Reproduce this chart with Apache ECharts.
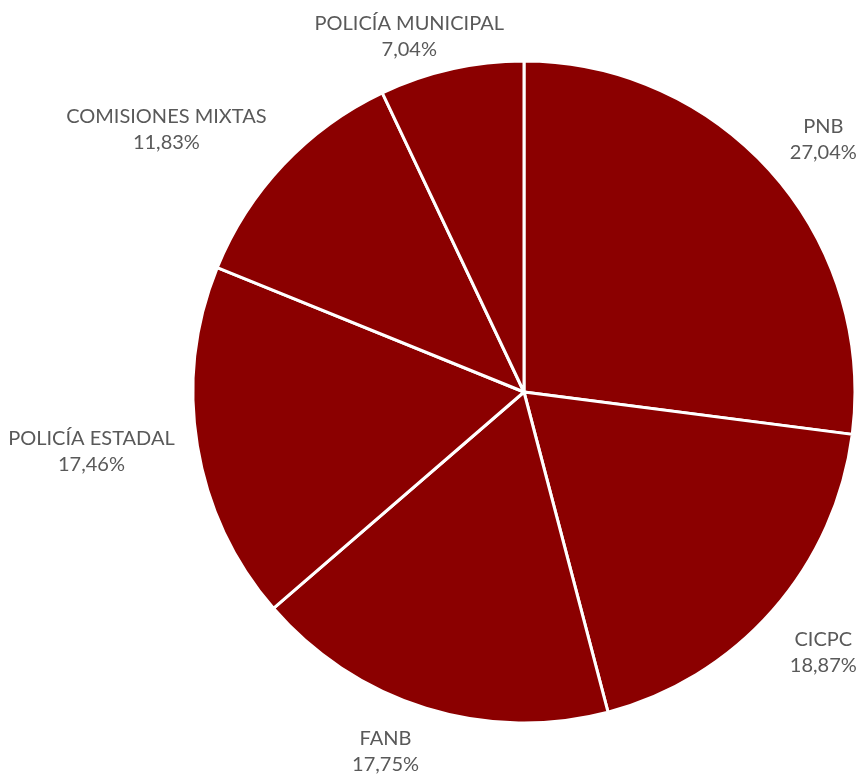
<!DOCTYPE html>
<html><head><meta charset="utf-8">
<script src="https://cdn.jsdelivr.net/npm/echarts@6/dist/echarts.min.js"></script>
<style>html,body{margin:0;padding:0;background:#fff}#c{width:864px;height:778px}</style>
</head><body><div id="c"></div>
<script>
var categories = ['PNB', 'CICPC', 'FANB', 'POLICÍA ESTADAL', 'COMISIONES MIXTAS', 'POLICÍA MUNICIPAL'];
var percentages = [27.04, 18.87, 17.75, 17.46, 11.83, 7.04];

var CX = 524, CY = 392, R = 331, D = 354, MIN_TOP = 11, MAX_BOTTOM = 778;
var total = percentages.reduce(function(a, b){ return a + b; }, 0);
var mids = [];
var acc = 0;
percentages.forEach(function(v){ mids.push((acc + v / 2) / total * 2 * Math.PI); acc += v; });

function placeLabel(i, w, h) {
  var ux = Math.sin(mids[i]), uy = -Math.cos(mids[i]);
  var px = CX + ux * D, py = CY + uy * D;
  var sx = ux >= 0 ? 1 : -1, sy = uy >= 0 ? 1 : -1;
  var x, y;
  if (Math.abs(uy) < Math.sin(15 * Math.PI / 180)) {
    // near horizontal: anchor at middle of the nearest side
    x = px + sx * w / 2; y = py + 2;
  } else {
    // anchor at the nearest corner (bottom corners sit a little lower)
    x = px + sx * w / 2; y = py + sy * h / 2 + (sy < 0 ? 7 : 1);
  }
  if (y - h / 2 < MIN_TOP) {
    y = MIN_TOP + h / 2;
    // keep the label beside its slice, clear of the vertical axis
    x = sx < 0 ? CX - 20 - w / 2 : CX + 20 + w / 2;
  }
  if (y + h / 2 > MAX_BOTTOM) y = MAX_BOTTOM - h / 2;
  return {x: x, y: y};
}

var chart = echarts.init(document.getElementById('c'));
chart.setOption({
  backgroundColor: '#ffffff',
  animation: false,
  series: [{
    type: 'pie',
    center: [CX, CY],
    radius: R,
    startAngle: 90,
    clockwise: true,
    data: categories.map(function(n, i){ return {name: n, value: percentages[i]}; }),
    itemStyle: {color: '#8B0000', borderColor: '#ffffff', borderWidth: 3},
    label: {
      show: true,
      position: 'outside',
      formatter: function(p){ return p.name + '\n' + p.value.toFixed(2).replace('.', ',') + '%'; },
      color: '#595959',
      fontFamily: 'Lato',
      fontSize: 20,
      lineHeight: 26,
      align: 'center',
      overflow: 'none'
    },
    labelLine: {show: false},
    labelLayout: function(params){
      var p = placeLabel(params.dataIndex, params.labelRect.width, params.labelRect.height);
      return {x: p.x, y: p.y, align: 'center', verticalAlign: 'middle'};
    },
    emphasis: {disabled: true}
  }]
});
</script></body></html>
